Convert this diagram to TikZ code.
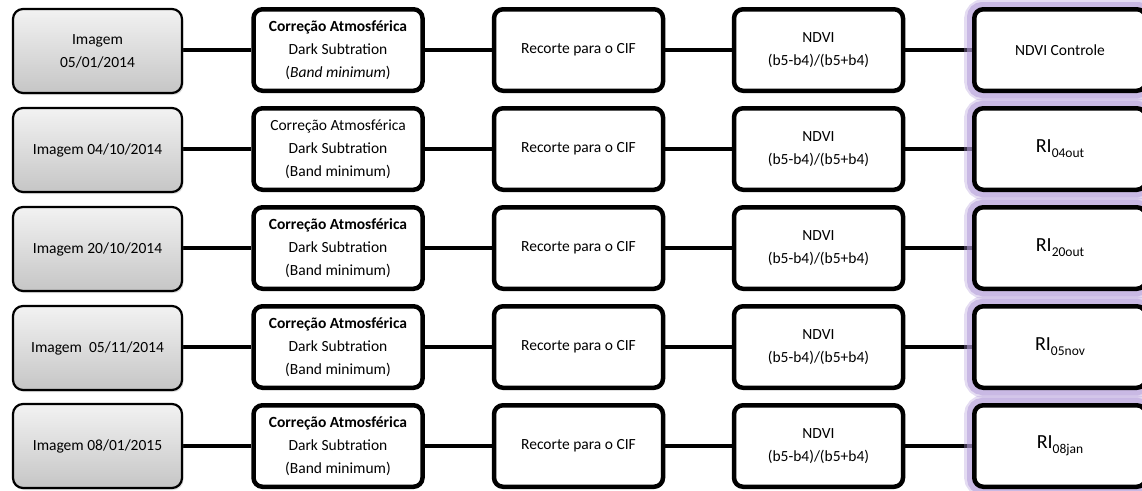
\documentclass[tikz,border=0pt]{standalone}
\usepackage{fontspec}
\setmainfont{Carlito}
\usetikzlibrary{shadows}

\definecolor{glowpurple}{HTML}{B39CD9}

\pgfdeclarelayer{links}
\pgfdeclarelayer{halo}
\pgfsetlayers{links,halo,main}

\tikzset{
  base/.style={rounded corners=9pt, align=center, inner sep=2pt,
    font=\fontsize{15.5}{23}\selectfont},
  imgbox/.style={base, draw=black, line width=2.2pt, rounded corners=10pt,
    minimum width=169pt, minimum height=84pt,
    top color=gray!10, bottom color=gray!45,
    drop shadow={shadow xshift=1.5pt, shadow yshift=-2pt, opacity=0.25}},
  procbox/.style={base, draw=black, fill=white, line width=4.5pt,
    minimum width=169pt, minimum height=81.5pt},
  outbox/.style={procbox, minimum width=171.5pt},
  conn/.style={draw=black, line width=4pt},
  glowA/.style={draw=glowpurple, line width=16pt, opacity=0.35, rounded corners=12pt},
  glowB/.style={draw=glowpurple, line width=10pt, opacity=0.55, rounded corners=10pt}
}

\newcommand{\risub}[1]{{\fontsize{20}{24}\selectfont RI\raisebox{-5pt}{\fontsize{13.5}{14}\selectfont #1}}}

\begin{document}
\begin{tikzpicture}[x=1pt, y=-1pt]
  \useasboundingbox (0,0) rectangle (1142,490);

  % source images
  \node[imgbox] (a1) at (97.5,51)  {Imagem\\05/01/2014};
  \node[imgbox] (a2) at (97.5,150) {Imagem 04/10/2014};
  \node[imgbox] (a3) at (97.5,249) {Imagem 20/10/2014};
  \node[imgbox] (a4) at (97.5,348) {Imagem\ \ 05/11/2014};
  \node[imgbox] (a5) at (97.5,446) {Imagem 08/01/2015};

  % atmospheric correction
  \node[procbox] (b1) at (338,50)  {\textbf{Correção Atmosférica}\\Dark Subtration\\(\textit{Band minimum})};
  \node[procbox] (b2) at (338,149) {Correção Atmosférica\\Dark Subtration\\(Band minimum)};
  \node[procbox] (b3) at (338,248) {\textbf{Correção Atmosférica}\\Dark Subtration\\(Band minimum)};
  \node[procbox] (b4) at (338,347) {\textbf{Correção Atmosférica}\\Dark Subtration\\(Band minimum)};
  \node[procbox] (b5) at (338,446) {\textbf{Correção Atmosférica}\\Dark Subtration\\(Band minimum)};

  % clipping to the study area
  \foreach \i/\y in {1/50,2/149,3/248,4/347,5/446}
    \node[procbox] (c\i) at (578.5,\y) {Recorte para o CIF};

  % NDVI
  \foreach \i/\y in {1/50,2/149,3/248,4/347,5/446}
    \node[procbox] (d\i) at (818.5,\y) {NDVI\\(b5-b4)/(b5+b4)};

  % outputs
  \node[outbox] (e1) at (1060,50)  {NDVI Controle};
  \node[outbox] (e2) at (1060,149) {\risub{04out}};
  \node[outbox] (e3) at (1060,248) {\risub{20out}};
  \node[outbox] (e4) at (1060,347) {\risub{05nov}};
  \node[outbox] (e5) at (1060,446) {\risub{08jan}};

  % purple halo round the outputs
  \begin{pgfonlayer}{halo}
    \foreach \i in {1,...,5} {
      \draw[glowA] (e\i.north west) rectangle (e\i.south east);
      \draw[glowB] (e\i.north west) rectangle (e\i.south east);
    }
  \end{pgfonlayer}

  % connectors
  \begin{pgfonlayer}{links}
    \foreach \i in {1,...,5} {
      \draw[conn] (a\i.east |- b\i.west) -- (b\i.west);
      \draw[conn] (b\i) -- (c\i);
      \draw[conn] (c\i) -- (d\i);
      \draw[conn] (d\i) -- (e\i);
    }
  \end{pgfonlayer}
\end{tikzpicture}
\end{document}
